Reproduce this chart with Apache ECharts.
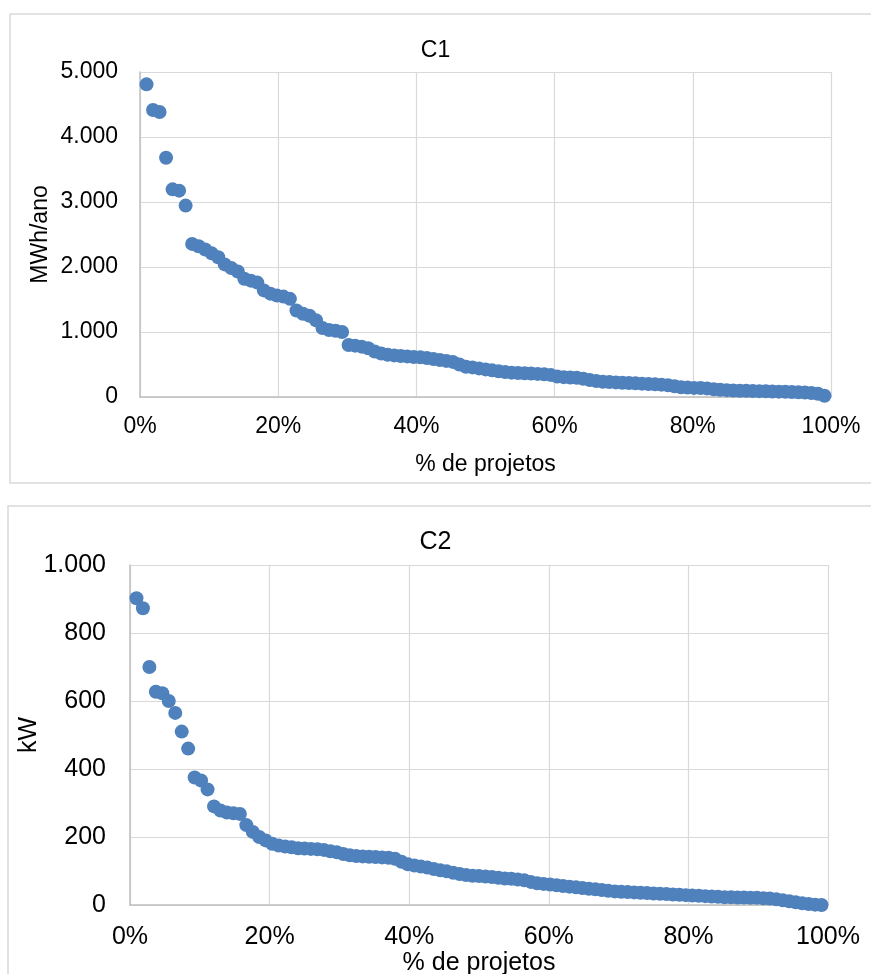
<!DOCTYPE html>
<html>
<head>
<meta charset="utf-8">
<script src="https://cdn.jsdelivr.net/npm/echarts@6/dist/echarts.min.js"></script>
<style>
  html, body { margin: 0; padding: 0; background: #fff; }
  #chart { width: 871px; height: 974px; }
</style>
</head>
<body>
<div id="chart"></div>
<script>
// C1 - energia por projeto (MWh/ano), ordenado decrescente
var c1Values = [
  4810, 4415, 4385, 3680, 3195, 3175, 2945, 2355, 2320, 2270,
  2210, 2150, 2040, 1985, 1930, 1820, 1790, 1760, 1640, 1590,
  1560, 1545, 1510, 1330, 1280, 1250, 1180, 1060, 1030, 1020,
  1000, 800, 790, 775, 750, 700, 670, 650, 640, 630,
  625, 615, 610, 600, 585, 570, 555, 540, 500, 465,
  455, 440, 425, 410, 395, 385, 375, 370, 365, 360,
  355, 350, 340, 315, 305, 300, 295, 280, 260, 245,
  235, 230, 225, 220, 215, 210, 205, 200, 195, 190,
  180, 165, 150, 145, 140, 138, 132, 120, 112, 105,
  100, 97, 95, 92, 90, 88, 85, 82, 80, 77,
  73, 70, 62, 50, 20
];

// C2 - potencia por projeto (kW), ordenado decrescente
var c2Values = [
  902, 873, 700, 627, 623, 600, 565, 510, 460, 375,
  366, 340, 290, 278, 272, 270, 268, 235, 215, 200,
  190, 180, 175, 172, 170, 167, 166, 165, 164, 162,
  158, 155, 150, 146, 144, 143, 142, 141, 140, 139,
  136, 127, 120, 116, 113, 110, 106, 102, 99, 95,
  91, 88, 86, 85, 84, 82, 80, 78, 77, 75,
  73, 68, 64, 62, 60, 58, 56, 54, 52, 50,
  48, 46, 44, 42, 40, 39, 38, 37, 36, 35,
  34, 33, 32, 31, 30, 29, 28, 27, 26, 25,
  24, 23, 23, 22, 22, 21, 21, 20, 19, 17,
  14, 11, 8, 5, 3, 1, 0
];

var xTicks = ['0%', '20%', '40%', '60%', '80%', '100%'];
var titles = ['C1', 'C2'];
var yNames = ['MWh/ano', 'kW'];
var xName = '% de projetos';

// % de projetos = posicao / (n + 1)
function toPoints(values) {
  var n = values.length;
  return values.map(function (v, i) {
    return [(i + 1) / (n + 1), v];
  });
}

function fmtThousands(v) {
  return String(v).replace(/\B(?=(\d{3})+(?!\d))/g, '.');
}

var font = 'Liberation Sans, Arial, sans-serif';
var blue = '#4f81bd';

var myChart = echarts.init(document.getElementById('chart'), null, { renderer: 'canvas' });

function xAxisFor(gridIndex, size, gap, margin) {
  return {
    gridIndex: gridIndex,
    type: 'value',
    min: 0,
    max: 1,
    interval: 0.2,
    name: xName,
    nameLocation: 'middle',
    nameGap: gap,
    nameMoveOverlap: false,
    nameTextStyle: { color: '#000', fontFamily: font, fontSize: size },
    axisLine: { show: true, lineStyle: { color: '#bfbfbf', width: 1.5 } },
    axisTick: { show: false },
    axisLabel: {
      color: '#000', fontFamily: font, fontSize: size, margin: margin,
      formatter: function (v) { return xTicks[Math.round(v * 5)]; }
    },
    splitLine: { show: true, lineStyle: { color: '#d9d9d9', width: 1.2 } }
  };
}

function yAxisFor(gridIndex, max, interval, name, size, gap, margin) {
  return {
    gridIndex: gridIndex,
    type: 'value',
    min: 0,
    max: max,
    interval: interval,
    name: name,
    nameLocation: 'middle',
    nameGap: gap,
    nameRotate: 90,
    nameMoveOverlap: false,
    nameTextStyle: { color: '#000', fontFamily: font, fontSize: size },
    axisLine: { show: true, lineStyle: { color: '#bfbfbf', width: 1.5 } },
    axisTick: { show: false },
    axisLabel: {
      color: '#000', fontFamily: font, fontSize: size, margin: margin,
      formatter: fmtThousands
    },
    splitLine: { show: true, lineStyle: { color: '#d9d9d9', width: 1.2 } }
  };
}

myChart.setOption({
  backgroundColor: '#fff',
  animation: false,
  title: [
    {
      text: titles[0], left: 'center', top: 39, padding: 0,
      textStyle: { color: '#000', fontFamily: font, fontSize: 23, fontWeight: 'normal' }
    },
    {
      text: titles[1], left: 'center', top: 530, padding: 0,
      textStyle: { color: '#000', fontFamily: font, fontSize: 25, fontWeight: 'normal' }
    }
  ],
  graphic: [
    {
      type: 'rect', z: -1, silent: true,
      shape: { x: 10, y: 14, width: 880, height: 469 },
      style: { fill: 'none', stroke: '#d9d9d9', lineWidth: 1.5 }
    },
    {
      type: 'rect', z: -1, silent: true,
      shape: { x: 8, y: 506, width: 880, height: 500 },
      style: { fill: 'none', stroke: '#d9d9d9', lineWidth: 1.5 }
    }
  ],
  grid: [
    { left: 140, top: 72, width: 691, height: 325, outerBoundsMode: 'none' },
    { left: 130, top: 565, width: 698, height: 340, outerBoundsMode: 'none' }
  ],
  xAxis: [
    xAxisFor(0, 23, 56, 18),
    xAxisFor(1, 25, 46, 20)
  ],
  yAxis: [
    yAxisFor(0, 5000, 1000, yNames[0], 23, 88, 22),
    yAxisFor(1, 1000, 200, yNames[1], 25, 88, 24)
  ],
  series: [
    {
      type: 'scatter',
      xAxisIndex: 0,
      yAxisIndex: 0,
      symbolSize: 14,
      itemStyle: { color: blue, opacity: 1 },
      data: toPoints(c1Values)
    },
    {
      type: 'scatter',
      xAxisIndex: 1,
      yAxisIndex: 1,
      symbolSize: 14,
      itemStyle: { color: blue, opacity: 1 },
      data: toPoints(c2Values)
    }
  ]
});
</script>
</body>
</html>
